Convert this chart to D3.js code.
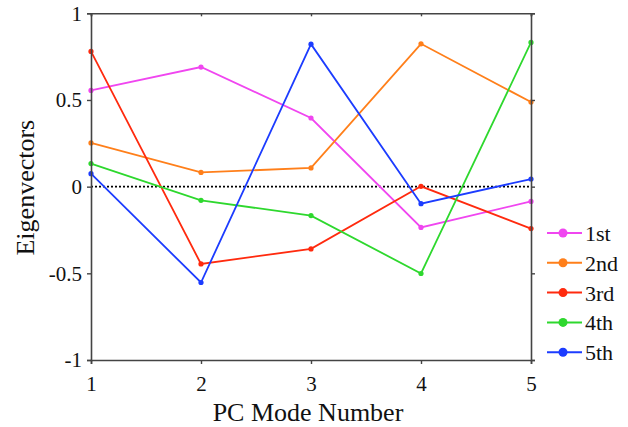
<!DOCTYPE html>
<html>
<head>
<meta charset="utf-8">
<script src="https://cdn.jsdelivr.net/npm/d3@7"></script>
<style>
  body { margin: 0; background: #fff; }
</style>
</head>
<body>
<div id="chart"></div>
<script>
// PC modes on the x axis
const modes = [1, 2, 3, 4, 5];
const seriesNames = ["1st", "2nd", "3rd", "4th", "5th"];
const seriesColors = ["#f046f0", "#ff7f1a", "#ff2a0e", "#2ed82e", "#1c3cff"];

// eigenvector loadings
const first  = [0.555, 0.69, 0.396, -0.235, -0.085];
const second = [0.252, 0.082, 0.108, 0.824, 0.488];
const third  = [0.78, -0.446, -0.359, 0.002, -0.242];
const fourth = [0.133, -0.079, -0.167, -0.501, 0.832];
const fifth  = [0.075, -0.553, 0.822, -0.098, 0.044];
const yTicks = [-1, -0.5, 0, 0.5, 1];

const allSeries = [first, second, third, fourth, fifth];
const serif = "font-family: 'Liberation Serif';";

const width = 628, height = 427;
const margin = {top: 13.3, right: 97, bottom: 67, left: 91};
const w = width - margin.left - margin.right;
const h = height - margin.top - margin.bottom;

const svg = d3.select("#chart").append("svg")
    .attr("width", width)
    .attr("height", height);

const g = svg.append("g")
    .attr("transform", `translate(${margin.left}, ${margin.top})`);

const x = d3.scaleLinear().domain([1, 5]).range([0, w]);
const y = d3.scaleLinear().domain([-1, 1]).range([h, 0]);

// zero line
g.append("line")
    .attr("x1", 0).attr("x2", w)
    .attr("y1", y(0)).attr("y2", y(0))
    .attr("stroke", "#000")
    .attr("stroke-width", 1.6)
    .attr("stroke-dasharray", "2,2");

// series
allSeries.forEach((vals, i) => {
    const pts = modes.map((m, j) => [m, vals[j]]);
    g.append("path")
        .datum(pts)
        .attr("fill", "none")
        .attr("stroke", seriesColors[i])
        .attr("stroke-width", 1.8)
        .attr("d", d3.line().x(d => x(d[0])).y(d => y(d[1])));
    g.selectAll(".dot" + i)
        .data(pts)
        .enter()
        .append("circle")
        .attr("cx", d => x(d[0]))
        .attr("cy", d => y(d[1]))
        .attr("r", 2.6)
        .attr("fill", seriesColors[i]);
});

// frame + axes
const axisColor = "#444";
const axLeft = g.append("g").call(d3.axisLeft(y).tickValues(yTicks).tickSize(4).tickPadding(5).tickFormat(d => String(d)));
const axBottom = g.append("g").attr("transform", `translate(0, ${h})`)
    .call(d3.axisBottom(x).tickValues(modes).tickSize(4).tickPadding(12).tickFormat(d => String(d)));
const axTop = g.append("g").call(d3.axisTop(x).tickValues(modes).tickSize(-3).tickFormat(""));
const axRight = g.append("g").attr("transform", `translate(${w}, 0)`)
    .call(d3.axisRight(y).tickValues(yTicks).tickSize(4).tickFormat(""));

[axLeft, axBottom, axTop, axRight].forEach(a => {
    a.attr("font-family", "Liberation Serif");
    a.select(".domain").attr("stroke", axisColor).attr("stroke-width", 1.6);
    a.selectAll(".tick line").attr("stroke", axisColor).attr("stroke-width", 1.4);
    a.selectAll("text").attr("style", serif + " font-size: 21px;").attr("fill", "#111");
});

// axis titles
svg.append("text")
    .attr("transform", `translate(34, ${margin.top + h / 2 + 1}) rotate(-90)`)
    .attr("text-anchor", "middle")
    .attr("fill", "#111")
    .attr("style", serif + " font-size: 26px;")
    .text("Eigenvectors");

svg.append("text")
    .attr("x", 308)
    .attr("y", 421)
    .attr("text-anchor", "middle")
    .attr("fill", "#111")
    .attr("style", serif + " font-size: 26px;")
    .text("PC Mode Number");

// legend
const legend = svg.append("g").attr("transform", "translate(547, 233)");
seriesNames.forEach((name, i) => {
    const row = legend.append("g").attr("transform", `translate(0, ${i * 29.8})`);
    row.append("line")
        .attr("x1", 0).attr("x2", 35)
        .attr("stroke", seriesColors[i])
        .attr("stroke-width", 2);
    row.append("circle")
        .attr("cx", 16).attr("r", 4.5)
        .attr("fill", seriesColors[i]);
    row.append("text")
        .attr("x", 38)
        .attr("y", 8)
        .attr("fill", "#111")
        .attr("style", serif + " font-size: 22px;")
        .text(name);
});
</script>
</body>
</html>
